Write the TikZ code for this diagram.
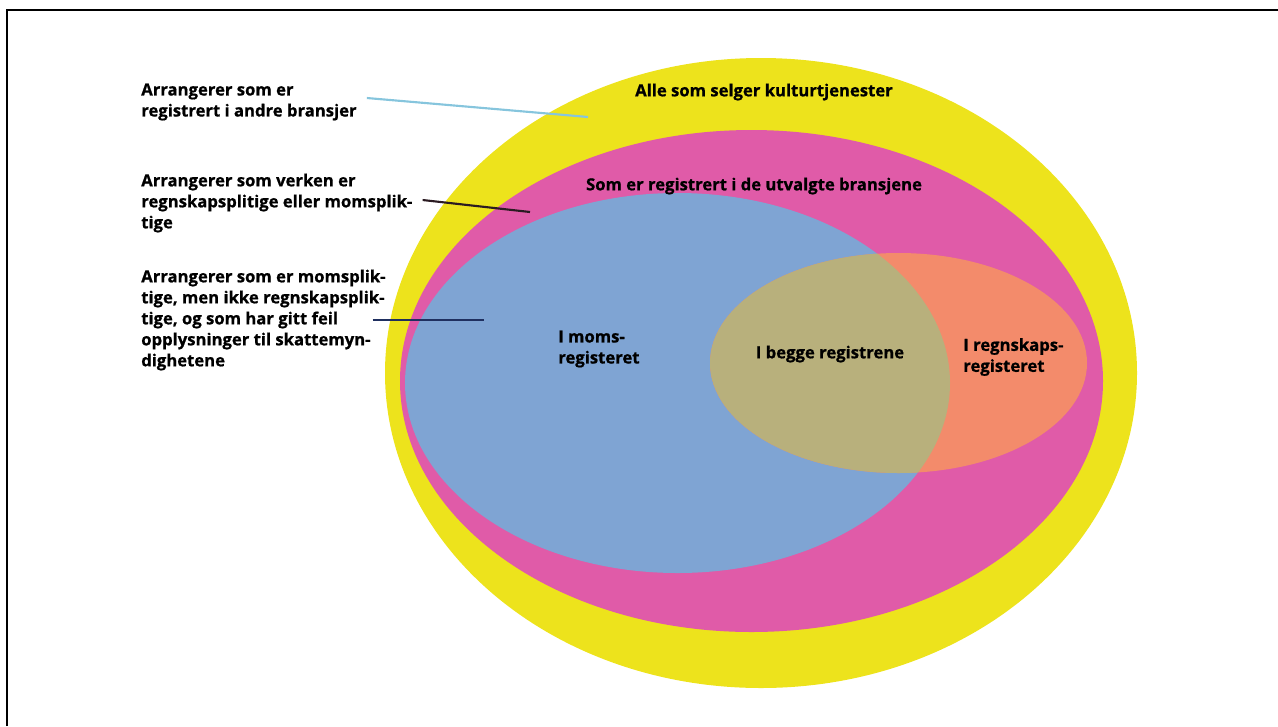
\documentclass[tikz,border=0pt]{standalone}
\usepackage{fontspec}
\newfontfamily\labelfont{Open Sans}[FakeBold=0.8]
\usetikzlibrary{calc, positioning}
\definecolor{setyellow}{HTML}{EDE31C}
\definecolor{setpink}{HTML}{E05BA8}
\definecolor{setblue}{HTML}{7FA4D3}
\definecolor{setorange}{HTML}{F38B6B}
\definecolor{setboth}{HTML}{B8B07C}
\definecolor{pointcyan}{HTML}{86C5DD}
\definecolor{pointdark}{HTML}{2B1B22}
\definecolor{pointnavy}{HTML}{1F2F5F}
\tikzstyle{note} = [anchor=west, inner sep=0pt, align=left, font=\labelfont\bfseries\fontsize{12.5}{15.75}\selectfont]
\tikzstyle{setlabel} = [inner sep=0pt, align=center, font=\labelfont\bfseries\fontsize{12.5}{15.75}\selectfont]
\tikzstyle{pointer} = [line width=1.6pt]

\begin{document}
\begin{tikzpicture}[x=0.75pt, y=-0.75pt]
\useasboundingbox (0,0) rectangle (1278,726);

% Frame
\draw[line width=1.5pt] (7,726) -- (7,10) -- (1278,10);

% Sets
\fill[setyellow] (761,373) ellipse [x radius=376, y radius=315];
\fill[setpink] (751.5,381) ellipse [x radius=351.5, y radius=251];
\fill[setblue] (677.5,383) ellipse [x radius=272.5, y radius=190];
\fill[setorange] (898.5,363) ellipse [x radius=188.5, y radius=110];
\begin{scope}
\clip (677.5,383) ellipse [x radius=272.5, y radius=190];
\fill[setboth] (898.5,363) ellipse [x radius=188.5, y radius=110];
\end{scope}

% Set labels
\node (alle) [setlabel] at (764,92) {Alle som selger kulturtjenester};
\node (bransje) [setlabel] at (754,186) {Som er registrert i de utvalgte bransjene};
\node (moms) [setlabel, anchor=west, align=left] at (558,349) {I moms-\\registeret};
\node (begge) [setlabel] at (830,354) {I begge registrene};
\node (regnskap) [setlabel, anchor=west, align=left] at (963,357) {I regnskaps-\\registeret};

% Notes on the left
\node (note1) [note] at (141,102) {Arrangerer som er\\registrert i andre bransjer};
\node (note2) [note] at (141,203) {Arrangerer som verken er\\regnskapsplitige eller momsplik-\\tige};
\node (note3) [note] at (141,320) {Arrangerer som er momsplik-\\tige, men ikke regnskapsplik-\\tige, og som har gitt feil\\opplysninger til skattemyn-\\dighetene};

\coordinate (end1) at (588,117);
\coordinate (end2) at (530,212);
\coordinate (end3) at (484,320);

\draw[pointer, pointcyan] ([shift={(10,-4)}]note1.east) -- (end1);
\draw[pointer, pointdark] ([shift={(10,-3)}]note2.east) -- (end2);
\draw[pointer, pointnavy] ([xshift=-10]note3.east) -- (end3);

\end{tikzpicture}
\end{document}
